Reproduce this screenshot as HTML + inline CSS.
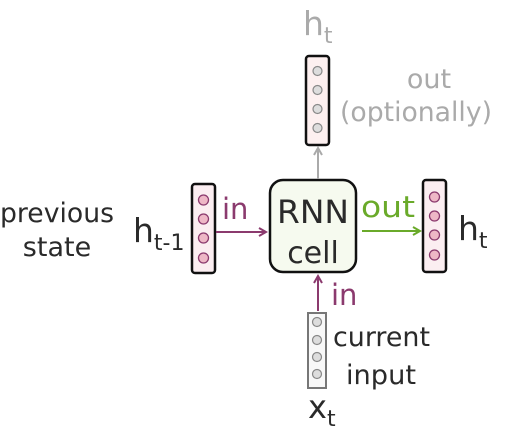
<!DOCTYPE html>
<html><head><meta charset="utf-8"><style>
body{margin:0;background:#fff;width:506px;height:430px;overflow:hidden}
text{font-family:"DejaVu Sans","Liberation Sans",sans-serif;font-weight:normal}
</style></head><body>
<svg width="506" height="430" viewBox="0 0 506 430">
<defs>
<marker id="ap" markerWidth="10" markerHeight="10" refX="8" refY="5" orient="auto" markerUnits="userSpaceOnUse"><path d="M1,1 L8,5 L1,9" fill="none" stroke="#8b3a6e" stroke-width="2"/></marker>
<marker id="ag" markerWidth="10" markerHeight="10" refX="8" refY="5" orient="auto" markerUnits="userSpaceOnUse"><path d="M1,1 L8,5 L1,9" fill="none" stroke="#6aaa2a" stroke-width="2"/></marker>
<marker id="ay" markerWidth="10" markerHeight="10" refX="8" refY="5" orient="auto" markerUnits="userSpaceOnUse"><path d="M1,1 L8,5 L1,9" fill="none" stroke="#aaa" stroke-width="2"/></marker>
</defs>
<g font-size="27" fill="#2a2a2a" text-anchor="middle">
<text x="57" y="222" textLength="114" lengthAdjust="spacingAndGlyphs">previous</text><text x="57" y="256">state</text></g>
<text x="133" y="242" font-size="33" fill="#2a2a2a">h<tspan font-size="22" dy="8">t-1</tspan></text>
<g>
<rect x="192" y="184" width="23" height="89" rx="3" fill="#fbeef1" stroke="#111" stroke-width="2.5"/>
<g fill="#eeb7c6" stroke="#8b3a6e" stroke-width="1.3"><circle cx="203.5" cy="200" r="5"/><circle cx="203.5" cy="219" r="5"/><circle cx="203.5" cy="238" r="5"/><circle cx="203.5" cy="258" r="5"/></g></g>
<text x="222" y="219" font-size="29" fill="#8b3a6e">in</text>
<line x1="216" y1="232" x2="266" y2="232" stroke="#8b3a6e" stroke-width="2" marker-end="url(#ap)"/>
<g>
<rect x="270" y="180" width="86" height="92" rx="13" fill="#f6faef" stroke="#111" stroke-width="2.5"/>
<text x="313" y="223" font-size="32" fill="#2a2a2a" text-anchor="middle" textLength="72" lengthAdjust="spacingAndGlyphs">RNN</text>
<text x="313" y="263" font-size="30" fill="#2a2a2a" text-anchor="middle">cell</text></g>
<text x="361" y="217" font-size="29" fill="#6aaa2a" textLength="54" lengthAdjust="spacingAndGlyphs">out</text>
<line x1="362" y1="231" x2="420" y2="231" stroke="#6aaa2a" stroke-width="2" marker-end="url(#ag)"/>
<g>
<rect x="423" y="180" width="23" height="92" rx="3" fill="#fbeef1" stroke="#111" stroke-width="2.5"/>
<g fill="#eeb7c6" stroke="#8b3a6e" stroke-width="1.3"><circle cx="434.5" cy="197" r="5"/><circle cx="434.5" cy="216" r="5"/><circle cx="434.5" cy="235" r="5"/><circle cx="434.5" cy="255" r="5"/></g></g>
<text x="458" y="240" font-size="33" fill="#2a2a2a">h<tspan font-size="22" dy="8">t</tspan></text>
<line x1="318" y1="179" x2="318" y2="148" stroke="#aaa" stroke-width="2" marker-end="url(#ay)"/>
<g>
<rect x="306" y="56" width="23" height="89" rx="3" fill="#fdf0f0" stroke="#111" stroke-width="2.5"/>
<g fill="#ddd" stroke="#888" stroke-width="1.2"><circle cx="317.5" cy="71" r="4.5"/><circle cx="317.5" cy="90" r="4.5"/><circle cx="317.5" cy="109" r="4.5"/><circle cx="317.5" cy="128" r="4.5"/></g></g>
<text x="303" y="35" font-size="33" fill="#aaa">h<tspan font-size="22" dy="8">t</tspan></text>
<g font-size="27" fill="#aaa" text-anchor="middle"><text x="429" y="88">out</text><text x="416" y="121" textLength="152" lengthAdjust="spacingAndGlyphs">(optionally)</text></g>
<line x1="318" y1="311" x2="318" y2="276" stroke="#8b3a6e" stroke-width="2" marker-end="url(#ap)"/>
<text x="331" y="305" font-size="29" fill="#8b3a6e">in</text>
<g font-size="27" fill="#2a2a2a"><text x="333" y="346" textLength="97" lengthAdjust="spacingAndGlyphs">current</text><text x="346" y="384" textLength="70" lengthAdjust="spacingAndGlyphs">input</text></g>
<g>
<rect x="308" y="313" width="18" height="75" fill="#f8f8f8" stroke="#777" stroke-width="2"/>
<g fill="#ddd" stroke="#888" stroke-width="1.2"><circle cx="317" cy="322" r="4.5"/><circle cx="317" cy="340" r="4.5"/><circle cx="317" cy="357" r="4.5"/><circle cx="317" cy="374" r="4.5"/></g></g>
<text x="308" y="418" font-size="32" fill="#2a2a2a">x<tspan font-size="22" dy="8">t</tspan></text>
</svg>
</body></html>
